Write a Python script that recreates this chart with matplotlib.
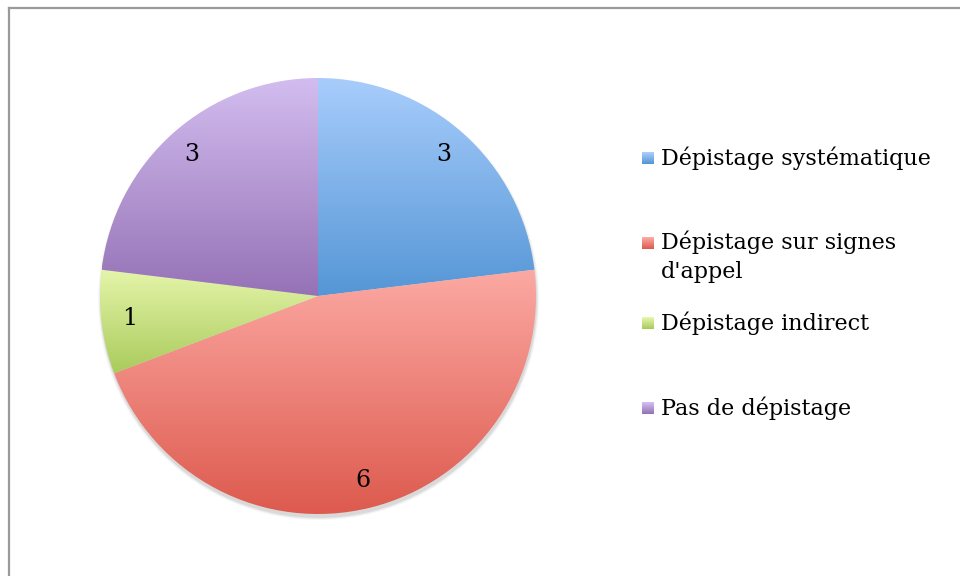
import matplotlib.pyplot as plt
import numpy as np
from matplotlib.patches import Circle, Rectangle
from matplotlib.lines import Line2D

# données du graphique
categories = ['Dépistage systématique', "Dépistage sur signes\nd'appel",
              'Dépistage indirect', 'Pas de dépistage']
valeurs = [3, 6, 1, 3]

# couleurs en dégradé (haut clair -> bas foncé)
couleurs_haut = ['#a8cdfc', '#fca9a3', '#e5f5aa', '#d3bdef']
couleurs_bas = ['#5596d6', '#dd5a4e', '#aacb5c', '#9572b6']


def hex2rgb(c):
    return np.array([int(c[i:i + 2], 16) / 255 for i in (1, 3, 5)])


plt.rcParams['font.family'] = ['DejaVu Serif']

fig = plt.figure(figsize=(9.6, 5.76), dpi=100)
W, H = 960, 576

# cadre gris (bords gauche et haut visibles)
fig.add_artist(Line2D([9 / W, 9 / W], [0, 1 - 8 / H], color='#9a9a9a', lw=1.6))
fig.add_artist(Line2D([9 / W, 1], [1 - 8 / H, 1 - 8 / H], color='#9a9a9a', lw=1.6))

# axes carrés centrés sur le camembert
cx, cy, R = 318, 296, 218
half = 1.1 * R
ax = fig.add_axes([(cx - half) / W, (H - cy - half) / H, 2 * half / W, 2 * half / H])
ax.axis('off')

# ombre légère sous le camembert
for k, a in zip([1.012, 1.007, 1.002], [0.03, 0.05, 0.07]):
    ax.add_patch(Circle((0.003, -0.016), k, color='black', alpha=a, lw=0, zorder=0))

wedges, textes = ax.pie(valeurs, startangle=90, counterclock=False, radius=1,
                        labels=[str(v) for v in valeurs], labeldistance=0.87,
                        wedgeprops=dict(linewidth=0))
for t in textes:
    t.set_fontsize(17)
    t.set_ha('center')
    t.set_va('center')
    t.set_zorder(3)

# dégradé vertical dans chaque secteur
for w, c1, c2 in zip(wedges, couleurs_haut, couleurs_bas):
    th = np.radians(np.linspace(w.theta1, w.theta2, 200))
    xs = np.concatenate([[0], np.cos(th)])
    ys = np.concatenate([[0], np.sin(th)])
    a, b = hex2rgb(c1), hex2rgb(c2)
    f = np.linspace(0, 1, 256)[:, None, None]
    grad = np.repeat(a + (b - a) * f, 2, axis=1)
    im = ax.imshow(grad, extent=[xs.min(), xs.max(), ys.min(), ys.max()],
                   origin='upper', aspect='auto', interpolation='bilinear', zorder=1)
    im.set_clip_path(w)
    w.set_facecolor('none')
    w.set_zorder(2)

ax.set_xlim(-1.1, 1.1)
ax.set_ylim(-1.1, 1.1)
ax.set_aspect('equal')

# légende placée à la main
leg_y = [158, 243, 323, 408]
sq = 12
for lab, y, c1, c2 in zip(categories, leg_y, couleurs_haut, couleurs_bas):
    a, b = hex2rgb(c1), hex2rgb(c2)
    for j in range(sq):
        col = a + (b - a) * j / (sq - 1)
        fig.add_artist(Rectangle((642 / W, 1 - (y - sq / 2 + j + 1) / H), sq / W, 1.2 / H,
                                 color=col, lw=0))
    if '\n' in lab:
        fig.text(661 / W, 1 - (y - 13) / H, lab, fontsize=16, va='top', ha='left',
                 linespacing=1.45)
    else:
        fig.text(661 / W, 1 - y / H, lab, fontsize=16, va='center', ha='left')

fig.savefig('out.png', dpi=100)
